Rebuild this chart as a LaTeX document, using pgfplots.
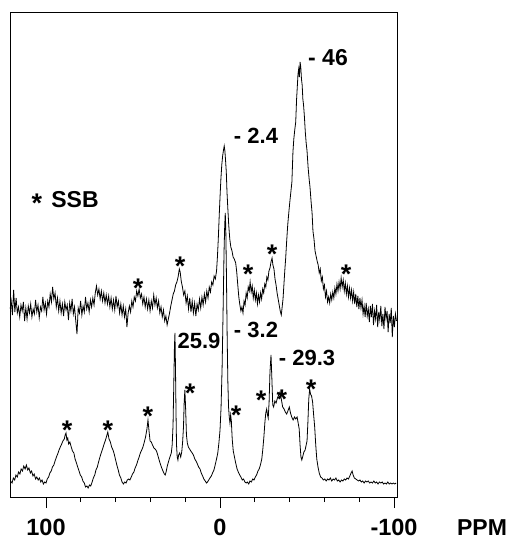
\documentclass[border=0pt]{standalone}
\usepackage{pgfplots}
\usepackage{pgfplotstable}
\pgfplotsset{compat=1.18}
\usepackage{fontspec}
\setmainfont{Liberation Sans}
\tikzset{
  asterisk/.style={font=\fontsize{27}{27}\selectfont\bfseries, anchor=base, inner sep=0pt, yshift=-15.3pt},
  plab/.style={font=\fontsize{22}{22}\selectfont\bfseries, inner sep=0pt},
}

\pgfplotstableread{
ppm h
120.6 188
120.0 196
119.3 182
118.6 207
117.9 185
117.2 199
116.5 184
115.8 190
115.1 180
114.4 192
113.7 186
113.0 195
112.3 176
111.6 189
110.9 178
110.2 191
109.5 184
108.8 193
108.1 180
107.4 188
106.7 183
106.0 197
105.3 185
104.6 192
103.9 179
103.2 190
102.5 186
101.8 200
101.1 187
100.4 194
99.7 183
99.0 196
98.3 190
97.6 203
96.9 195
96.2 210
95.5 198
94.8 204
94.1 190
93.4 199
92.7 186
92.0 196
91.3 184
90.6 193
89.9 181
89.2 195
88.5 187
87.8 192
87.1 177
86.4 194
85.7 186
85.0 198
84.3 183
83.6 190
82.9 176
82.2 163
81.5 189
80.8 184
80.1 196
79.4 182
78.7 191
78.0 185
77.3 200
76.6 188
75.9 194
75.2 185
74.5 197
73.8 190
73.1 199
72.4 192
71.7 204
71.0 211
70.3 202
69.6 208
68.9 198
68.2 206
67.5 196
66.8 204
66.1 194
65.4 202
64.7 193
64.0 201
63.3 190
62.6 199
61.9 188
61.2 197
60.5 187
59.8 201
59.1 190
58.4 196
57.7 184
57.0 193
56.3 182
55.6 191
54.9 180
54.2 188
53.5 170
52.8 184
52.1 191
51.4 185
50.7 196
50.0 190
49.3 200
48.6 196
47.9 206
47.2 201
46.5 208
45.8 199
45.1 203
44.4 193
43.7 200
43.0 190
42.3 198
41.6 188
40.9 197
40.2 186
39.5 196
38.8 189
38.1 202
37.4 192
36.7 199
36.0 189
35.3 196
34.6 184
33.9 190
33.2 180
32.5 187
31.8 176
31.1 181
30.4 172
29.7 178
29.0 184
28.3 191
27.6 197
26.9 203
26.2 206
25.5 212
24.8 215
24.1 220
23.4 228
22.9 225
22.3 216
21.6 210
20.9 202
20.2 206
19.5 194
18.8 201
18.1 188
17.4 199
16.7 185
16.0 196
15.3 184
14.6 194
13.9 181
13.2 193
12.5 187
11.8 198
11.1 189
10.4 200
9.7 192
9.0 203
8.3 195
7.6 206
6.9 199
6.2 210
5.5 205
4.8 215
4.1 212
3.4 221
2.7 218
2.0 226
1.5 240
1.0 258
0.5 280
0.0 300
-0.5 318
-1.0 332
-1.5 341
-2.0 347
-2.4 351
-2.8 346
-3.2 336
-3.6 325
-4.0 305
-4.5 288
-5.0 272
-5.6 258
-6.2 250
-6.9 246
-7.5 240
-8.2 238
-9.0 234
-9.6 225
-10.2 212
-10.8 200
-11.4 192
-12.0 186
-12.6 190
-13.2 184
-13.8 196
-14.4 192
-15.0 204
-15.6 199
-16.2 210
-16.8 206
-17.3 215
-17.9 205
-18.5 211
-19.1 199
-19.7 207
-20.3 197
-20.9 204
-21.5 193
-22.1 202
-22.7 195
-23.3 204
-23.9 198
-24.5 208
-25.1 204
-25.7 213
-26.3 210
-26.9 220
-27.5 217
-28.1 226
-28.7 229
-29.3 235
-29.9 239
-30.4 232
-31.0 228
-31.6 218
-32.2 212
-32.8 204
-33.4 198
-34.0 192
-34.6 186
-35.2 182
-35.7 190
-36.2 198
-36.7 212
-37.2 226
-37.7 238
-38.3 256
-38.9 272
-39.5 284
-40.1 295
-40.7 305
-41.3 315
-41.9 345
-42.4 358
-43.0 368
-43.5 375
-44.0 398
-44.4 410
-44.8 423
-45.2 428
-45.6 420
-46.0 435
-46.4 430
-46.8 418
-47.2 412
-47.6 398
-48.0 392
-48.5 380
-49.0 365
-49.5 354
-50.0 346
-50.6 330
-51.2 318
-51.7 310
-52.3 296
-52.9 284
-53.4 266
-54.0 258
-54.6 246
-55.2 241
-55.8 236
-56.4 232
-57.0 224
-57.6 228
-58.2 216
-58.8 220
-59.4 208
-60.0 212
-60.6 200
-61.2 206
-61.8 195
-62.4 200
-63.0 194
-63.6 203
-64.2 197
-64.8 205
-65.4 199
-66.0 209
-66.6 203
-67.2 213
-67.8 206
-68.4 215
-69.0 208
-69.6 219
-70.2 210
-70.8 217
-71.4 206
-72.0 214
-72.6 203
-73.2 211
-73.8 200
-74.4 209
-75.0 199
-75.6 207
-76.2 196
-76.8 205
-77.4 193
-78.0 203
-78.6 190
-79.2 201
-79.8 188
-80.4 199
-81.0 189
-81.6 197
-82.2 183
-82.8 191
-83.4 180
-84.0 194
-84.6 181
-85.2 188
-85.8 175
-86.4 191
-87.0 180
-87.6 193
-88.2 172
-88.8 186
-89.4 178
-90.0 192
-90.6 170
-91.2 185
-91.8 177
-92.4 191
-93.0 171
-93.6 183
-94.2 168
-94.8 190
-95.4 178
-96.0 186
-96.6 165
-97.2 183
-97.8 174
-98.4 189
-99.0 160
-99.6 181
-100.2 170
-100.8 183
-101.4 176
}\uppertrace

\pgfplotstableread{
ppm h
120.5 16
119.5 14
118.8 19
118.0 17
117.3 22
116.5 20
115.8 25
115.0 23
114.3 28
113.5 26
112.8 31
112.0 28
111.3 32
110.5 27
109.8 29
109.0 24
108.3 26
107.5 21
106.8 23
106.0 18
105.3 20
104.5 17
103.8 19
103.0 15
102.3 17
101.5 13
100.8 15
100.0 14
99.3 18
98.5 20
97.8 24
97.0 26
96.3 30
95.5 32
94.8 36
94.0 40
93.3 43
92.5 47
91.8 50
91.0 53
90.3 56
89.5 58
89.0 62
88.5 64
88.0 57
87.5 59
87.0 53
86.3 55
85.5 50
84.8 46
84.0 44
83.3 38
82.5 34
81.8 30
81.0 26
80.3 22
79.5 20
78.8 16
78.0 14
77.3 10
76.5 11
75.8 9
75.0 12
74.3 11
73.5 15
72.8 19
72.0 22
71.3 27
70.5 30
69.8 35
69.0 40
68.3 44
67.5 48
66.8 52
66.0 56
65.3 60
64.5 65
63.8 58
63.0 55
62.3 50
61.5 47
60.8 43
60.0 37
59.3 32
58.5 27
57.8 22
57.0 19
56.3 15
55.5 13
54.8 15
54.0 14
53.3 17
52.5 18
51.8 17
51.0 20
50.3 23
49.5 25
48.8 29
48.0 32
47.3 36
46.5 40
45.8 44
45.0 47
44.3 50
43.5 55
42.8 60
42.0 68
41.4 77
40.8 66
40.2 56
39.5 55
38.8 52
38.0 49
37.3 48
36.5 46
35.8 42
35.0 37
34.3 33
33.5 29
32.8 26
32.0 23
31.5 22
31.0 25
30.3 31
29.5 36
28.8 40
28.0 44
27.5 52
27.0 72
26.6 110
26.2 150
25.9 164
25.6 130
25.3 85
25.0 52
24.6 40
24.2 37
23.8 42
23.2 44
22.6 40
22.0 45
21.5 55
21.0 70
20.6 95
20.2 107
19.8 90
19.3 62
18.8 54
18.2 50
17.5 48
16.8 46
16.0 44
15.3 42
14.5 38
13.8 36
13.0 33
12.3 30
11.5 28
10.8 24
10.0 21
9.3 18
8.5 16
7.8 14
7.2 15
6.5 17
5.8 19
5.0 21
4.3 24
3.5 27
2.8 32
2.0 38
1.3 44
0.6 55
0.0 67
-0.6 90
-1.2 130
-1.8 190
-2.3 245
-2.7 272
-3.0 284
-3.3 270
-3.7 220
-4.1 160
-4.5 115
-4.9 90
-5.3 80
-5.7 74
-6.1 82
-6.5 76
-7.0 58
-7.6 46
-8.3 40
-9.0 34
-9.8 28
-10.5 25
-11.3 22
-12.0 20
-12.8 17
-13.5 18
-14.3 15
-15.0 14
-15.7 15
-16.5 13
-17.2 16
-18.0 15
-18.8 18
-19.5 17
-20.3 20
-21.0 22
-21.8 26
-22.5 28
-23.2 32
-24.0 38
-24.6 48
-25.2 60
-25.8 75
-26.3 84
-26.8 88
-27.3 82
-27.7 79
-28.2 95
-28.7 125
-29.3 142
-29.8 118
-30.3 92
-30.8 90
-31.5 96
-32.2 94
-33.0 99
-33.7 102
-34.5 105
-35.2 98
-36.0 90
-36.8 88
-37.5 85
-38.3 83
-39.0 86
-39.8 90
-40.5 84
-41.2 80
-42.0 77
-42.8 80
-43.5 78
-44.3 80
-44.9 74
-45.5 68
-46.0 52
-46.5 40
-47.0 37
-47.6 41
-48.2 45
-48.9 47
-49.5 52
-50.0 56
-50.5 75
-51.0 98
-51.5 108
-52.0 103
-52.6 101
-53.2 95
-53.8 82
-54.4 70
-55.0 52
-55.6 38
-56.3 30
-57.0 24
-57.8 20
-58.6 19
-59.4 17
-60.2 18
-61.0 16
-61.8 18
-62.6 17
-63.4 19
-64.2 16
-65.0 18
-65.8 17
-66.6 19
-67.4 16
-68.2 17
-69.0 15
-69.8 17
-70.6 16
-71.4 18
-72.2 17
-73.0 19
-73.8 18
-74.6 21
-75.3 24
-75.9 26
-76.5 22
-77.2 19
-78.0 18
-78.8 17
-79.6 16
-80.4 17
-81.2 15
-82.0 16
-82.8 14
-83.6 16
-84.4 15
-85.2 16
-86.0 14
-86.8 15
-87.6 14
-88.4 16
-89.2 14
-90.0 15
-90.8 13
-91.6 15
-92.4 14
-93.2 15
-94.0 13
-94.8 14
-95.6 13
-96.4 15
-97.2 13
-98.0 14
-98.8 13
-99.6 14
-100.4 13
-101.2 14
}\lowertrace

\begin{document}
\begin{tikzpicture}
\path[use as bounding box] (-10pt,-43pt) rectangle (500pt,497pt);
\begin{axis}[
  scale only axis, width=387pt, height=485pt,
  x dir=reverse, xmin=-101.7, xmax=120.7, ymin=0, ymax=485,
  axis line style={line width=0.9pt, black},
  ytick=\empty,
  xtick={100,0,-100}, xticklabels={100,0,-100},
  minor xtick={80,60,40,20,-20,-40,-60,-80},
  xtick pos=lower,
  tick align=outside, major tick length=11pt, minor tick length=5pt,
  tick style={line width=0.8pt, black},
  xticklabel style={font=\fontsize{23.5}{24}\selectfont\bfseries, anchor=base, inner sep=0pt, yshift=-27pt},
  clip=false,
]
\addplot[black, line width=0.8pt] table[x=ppm, y=h] {\uppertrace};
\addplot[black, line width=0.8pt] table[x=ppm, y=h] {\lowertrace};
% spinning side band markers
\node[asterisk] at (axis cs:47.1,215) {*};
\node[asterisk] at (axis cs:23.0,237) {*};
\node[asterisk] at (axis cs:-16.1,229) {*};
\node[asterisk] at (axis cs:-29.9,249) {*};
\node[asterisk] at (axis cs:-72.4,229) {*};
\node[asterisk] at (axis cs:87.9,73) {*};
\node[asterisk] at (axis cs:64.4,73) {*};
\node[asterisk] at (axis cs:41.4,87) {*};
\node[asterisk] at (axis cs:17.2,110) {*};
\node[asterisk] at (axis cs:-9.2,88) {*};
\node[asterisk] at (axis cs:-23.6,103) {*};
\node[asterisk] at (axis cs:-35.6,104) {*};
\node[asterisk] at (axis cs:-52.3,114) {*};
\end{axis}
% peak labels (picture coordinates: 1pt = 1px of the reference)
\node[plab, font=\fontsize{23}{23}\selectfont\bfseries] at (318pt,439pt) {- 46};
\node[plab] at (246pt,361pt) {- 2.4};
\node[plab] at (189pt,156pt) {25.9};
\node[plab] at (246pt,167pt) {- 3.2};
\node[plab] at (297pt,139pt) {- 29.3};
\node[asterisk] at (27pt,300pt) {*};
\node[font=\fontsize{23}{23}\selectfont\bfseries, inner sep=0pt] at (65pt,297pt) {SSB};
\node[font=\fontsize{23}{23}\selectfont\bfseries, inner sep=0pt] at (472pt,-31pt) {PPM};
\end{tikzpicture}
\end{document}
